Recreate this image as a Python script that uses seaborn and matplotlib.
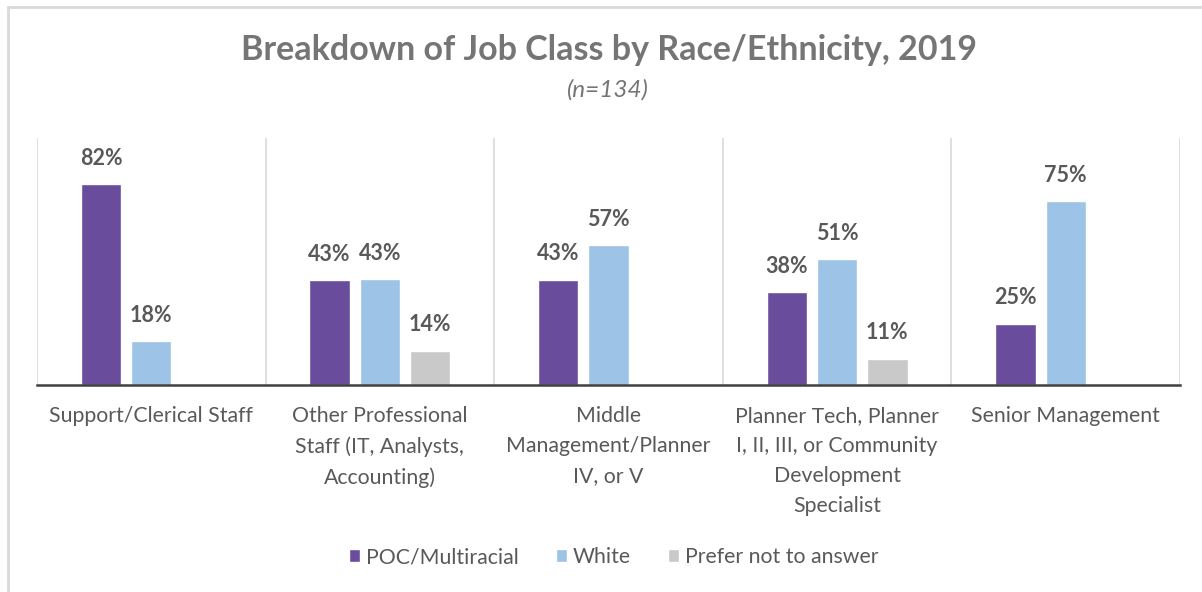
import matplotlib
matplotlib.use("Agg")

import matplotlib.pyplot as plt
import numpy as np
import pandas as pd
import seaborn as sns
from matplotlib.patches import Rectangle

CATEGORIES = [
    "Support/Clerical Staff",
    "Other Professional\nStaff (IT, Analysts,\nAccounting)",
    "Middle\nManagement/Planner\nIV, or V",
    "Planner Tech, Planner\nI, II, III, or Community\nDevelopment\nSpecialist",
    "Senior Management",
]
SERIES = ["POC/Multiracial", "White", "Prefer not to answer"]
POC = [0.82, 0.428, 0.43, 0.378, 0.25]
WHITE = [0.18, 0.432, 0.57, 0.514, 0.75]
PREFER = [np.nan, 0.14, np.nan, 0.108, np.nan]

PURPLE = "#6A4C9C"
BLUE = "#9DC3E6"
GREY = "#C9C9C9"
TEXT_GREY = "#595959"
TITLE_GREY = "#757575"
SEP_GREY = "#D9D9D9"

sns.set_theme(style="white")
plt.rcParams["font.family"] = ["Lato", "DejaVu Sans"]

rows = []
for i, cat in enumerate(CATEGORIES):
    for name, vals in zip(SERIES, [POC, WHITE, PREFER]):
        if not np.isnan(vals[i]):
            rows.append({"Category": cat, "Series": name, "Share": vals[i]})
df = pd.DataFrame(rows)

fig = plt.figure(figsize=(12.02, 5.92), dpi=100)
ax = fig.add_axes([37 / 1202, 1 - 385 / 592, (1180 - 37) / 1202, (385 - 138) / 592])

sns.barplot(
    data=df,
    x="Category",
    y="Share",
    hue="Series",
    order=CATEGORIES,
    hue_order=SERIES,
    palette=[PURPLE, BLUE, GREY],
    width=0.66,
    gap=0.2,
    saturation=1,
    legend=True,
    ax=ax,
)

ax.set_ylim(0, 1.008)
ax.set_xlim(-0.5, len(CATEGORIES) - 0.5)
ax.set_yticks([])
ax.set_xlabel("")
ax.set_ylabel("")
for side in ["top", "left", "right"]:
    ax.spines[side].set_visible(False)
ax.spines["bottom"].set_color("#404040")
ax.spines["bottom"].set_linewidth(1.8)
ax.spines["bottom"].set_zorder(5)

# separators between job classes
for xs in np.arange(-0.5, len(CATEGORIES), 1.0):
    ax.axvline(xs, color=SEP_GREY, lw=1.2, zorder=0)

for container in ax.containers:
    labels = ["" if np.isnan(v) else f"{v * 100:.0f}%" for v in container.datavalues]
    ax.bar_label(container, labels=labels, padding=11, fontsize=15.5,
                 fontweight="bold", color=TEXT_GREY)

ax.tick_params(axis="x", length=0, pad=15, labelsize=15.3, labelcolor=TEXT_GREY)
for lbl in ax.get_xticklabels():
    lbl.set_linespacing(1.62)
    lbl.set_verticalalignment("top")

handles, labels = ax.get_legend_handles_labels()
ax.legend_.remove()
fig.legend(
    handles, labels,
    loc="center", bbox_to_anchor=(614 / 1202, 1 - 557 / 592),
    ncol=3, frameon=False, fontsize=15.3, labelcolor=TEXT_GREY,
    handlelength=0.5, handleheight=0.5, handletextpad=0.3, columnspacing=1.75,
)

fig.text(609 / 1202, 1 - 50 / 592, "Breakdown of Job Class by Race/Ethnicity, 2019",
         ha="center", va="center", fontsize=24.5, fontweight="bold", color=TITLE_GREY)
fig.text(608 / 1202, 1 - 90 / 592, "(n=134)", ha="center", va="center",
         fontsize=17.5, style="italic", color=TITLE_GREY)

fig.patches.append(Rectangle((8 / 1202, -0.1), 1.1, 1 - 7 / 592 + 0.1,
                             transform=fig.transFigure, fill=False,
                             edgecolor="#D9D9D9", lw=2, zorder=0))

fig.savefig("out.png", dpi=100)
